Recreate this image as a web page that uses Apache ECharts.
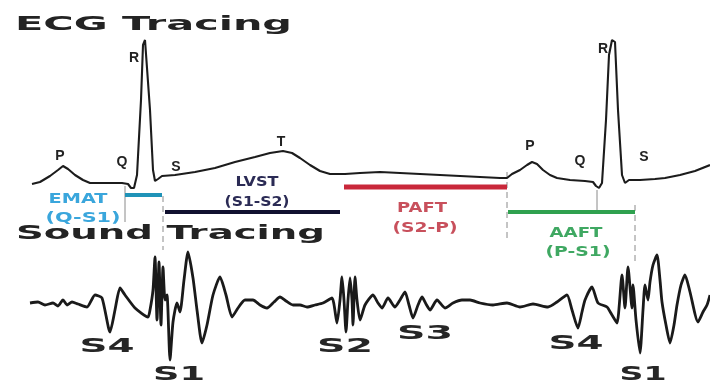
<!DOCTYPE html>
<html><head><meta charset="utf-8">
<script src="https://cdn.jsdelivr.net/npm/echarts@6/dist/echarts.min.js"></script>
<style>html,body{margin:0;padding:0;background:#fff}#c{width:710px;height:382px}</style>
</head><body><div id="c"></div>
<script>
// ---- data (x = time, y = amplitude, screen-like units) ----
const ecgTrace = [[32,184],[40,182],[50,176],[58,170],[63,166],[68,169],[75,175],[83,180],[90,183],[105,183],[122,183],[128,184],[131,188],[134,188],[137,175],[141,100],[143,45],[145,40],[147,42],[150,110],[153,170],[155,181],[158,179],[162,176],[175,175],[195,172],[215,168],[235,162],[255,157],[270,153],[283,151],[292,153],[300,158],[310,165],[320,171],[330,174],[345,174],[360,173],[380,172],[400,173],[420,174],[440,175],[460,176],[480,177],[500,178],[507,178],[512,174],[520,170],[527,165],[532,162],[537,164],[543,170],[550,175],[557,178],[570,180],[585,181],[593,182],[596,186],[599,188],[602,183],[606,120],[609,55],[612,40],[615,42],[618,110],[622,175],[625,183],[629,180],[640,180],[655,179],[665,178],[680,175],[695,171],[710,165]];
const soundTrace = [[30,303],[38,302],[45,305],[53,303],[58,306],[63,300],[67,305],[72,302],[78,304],[87,307],[95,295],[102,298],[110,332],[115,310],[120,288],[125,295],[135,308],[148,317],[150,310],[153,290],[155,257],[157,320],[159,262],[161,325],[163,267],[165,300],[167,295],[170,360],[173,322],[177,303],[180,312],[184,280],[188,252],[193,278],[197,310],[202,343],[207,325],[213,295],[220,277],[226,295],[232,317],[238,308],[245,300],[253,300],[260,305],[267,308],[274,302],[280,297],[286,301],[293,305],[300,305],[307,307],[315,305],[323,303],[332,298],[337,323],[340,300],[342,277],[344,300],[346,332],[348,300],[350,278],[352,300],[353,325],[355,277],[357,300],[360,320],[365,305],[373,295],[378,303],[382,308],[388,298],[395,307],[400,300],[405,292],[409,305],[413,318],[418,305],[422,297],[426,304],[430,310],[437,300],[445,308],[453,303],[462,300],[470,300],[480,303],[493,305],[507,303],[520,307],[533,304],[548,307],[557,302],[567,295],[572,310],[578,328],[582,312],[585,300],[592,287],[598,303],[607,307],[612,315],[617,323],[622,275],[625,308],[628,267],[632,308],[633,285],[636,320],[640,353],[643,310],[645,285],[648,300],[650,282],[653,265],[657,255],[660,280],[662,302],[666,325],[670,343],[674,325],[677,305],[681,285],[685,275],[690,292],[698,322],[703,312],[707,305],[710,295]];

const traceTitles = ['ECG Tracing', 'Sound Tracing'];
const traceTitleAt = [[15,25],[16,234]];

const ecgWaveNames = ['P','Q','R','S','T','P','Q','R','S'];
const ecgWaveAt = [[60,156],[122,162],[134,58],[176,167],[281,142],[530,146],[580,161],[603,49],[644,157]];

const intervalNames = ['EMAT','LVST','PAFT','AAFT'];
const intervalSpans = ['(Q-S1)','(S1-S2)','(S2-P)','(P-S1)'];
const intervalStart = [125,165,344,508];
const intervalEnd = [162,340,507,635];
const intervalLevel = [195,212,187,212];
const intervalNameAt = [[78,199],[257,182],[422,208],[576,233]];
const intervalSpanAt = [[83,218],[257,202],[425,228],[578,252]];

const soundNames = ['S4','S1','S2','S3','S4','S1'];
const soundNameAt = [[107,347],[179,375],[345,347],[425,334],[576,344],[643,375]];

const guideX = [125,163,507,597,635];
const guideTop = [186,196,172,190,205];
const guideBottom = [222,250,240,212,262];
const guideDashed = [0,1,1,0,1];

// ---- styles ----
const intervalBarColors = ['#1f93b8','#111130','#c9283a','#2fa14f'];
const intervalTextColors = ['#3aa6dc','#2b2b55','#c8505c','#3fa862'];
const intervalBarWidths = [4,4,5,4];
const titleWidths = [277, 309];
const intervalNameWidths = [59, 43, 50, 53];
const intervalSpanWidths = [75, 65, 65, 65];
const soundNameWidths = [55, 52, 56, 56, 55, 47];

const mctx = document.createElement('canvas').getContext('2d');
function fitScale(text, font, w){ mctx.font = font; return w / mctx.measureText(text).width; }

function textSeries(texts, anchors, font, colorFn, widths, align){
  return {
    type:'custom', silent:true, animation:false, clip:false, z:5,
    data: anchors.map((a,i)=>[a[0],a[1],i]),
    renderItem: function(params, api){
      const i = api.value(2);
      const p = api.coord([api.value(0), api.value(1)]);
      const sx = widths ? fitScale(texts[i], font, widths[i]) : 1;
      return {type:'text', x:p[0], y:p[1], scaleX:sx,
        style:{text:texts[i], font:font, fill:colorFn(i), align:align||'center', verticalAlign:'middle'}};
    }
  };
}

const chart = echarts.init(document.getElementById('c'), null, {renderer:'canvas'});
chart.setOption({
  backgroundColor:'#ffffff',
  animation:false,
  grid:{left:0,right:0,top:0,bottom:0},
  xAxis:{type:'value',min:0,max:710,show:false},
  yAxis:{type:'value',min:0,max:382,inverse:true,show:false},
  series:[
    {type:'line', data:ecgTrace, symbol:'none', silent:true, lineStyle:{color:'#1c1c1c', width:2.1}, z:3},
    {type:'line', data:soundTrace, symbol:'none', silent:true, smooth:0.2, lineStyle:{color:'#1a1a1a', width:2.8}, z:3},
    {type:'custom', silent:true, animation:false, z:2,
      data: guideX.map((x,i)=>[x, guideTop[i], guideBottom[i], i]),
      renderItem:function(params, api){
        const i = api.value(3);
        const a = api.coord([api.value(0), api.value(1)]);
        const b = api.coord([api.value(0), api.value(2)]);
        return {type:'line', shape:{x1:a[0],y1:a[1],x2:b[0],y2:b[1]},
          style:{stroke:'#8a8a8a', lineWidth:1, lineDash: guideDashed[i] ? [6,4] : null}};
      }},
    {type:'custom', silent:true, animation:false, z:4,
      data: intervalStart.map((s,i)=>[s, intervalEnd[i], intervalLevel[i], i]),
      renderItem:function(params, api){
        const i = api.value(3);
        const a = api.coord([api.value(0), api.value(2)]);
        const b = api.coord([api.value(1), api.value(2)]);
        return {type:'line', shape:{x1:a[0],y1:a[1],x2:b[0],y2:b[1]},
          style:{stroke:intervalBarColors[i], lineWidth:intervalBarWidths[i]}};
      }},
    textSeries(traceTitles, traceTitleAt, 'bold 20px "DejaVu Sans"', ()=>'#232323', titleWidths, 'left'),
    textSeries(ecgWaveNames, ecgWaveAt, 'bold 14px "Liberation Sans"', ()=>'#222', null),
    textSeries(intervalNames, intervalNameAt, 'bold 14px "DejaVu Sans"', i=>intervalTextColors[i], intervalNameWidths),
    textSeries(intervalSpans, intervalSpanAt, 'bold 14px "DejaVu Sans"', i=>intervalTextColors[i], intervalSpanWidths),
    textSeries(soundNames, soundNameAt, 'bold 20px "DejaVu Sans"', ()=>'#262626', soundNameWidths)
  ]
});
</script>
</body></html>
